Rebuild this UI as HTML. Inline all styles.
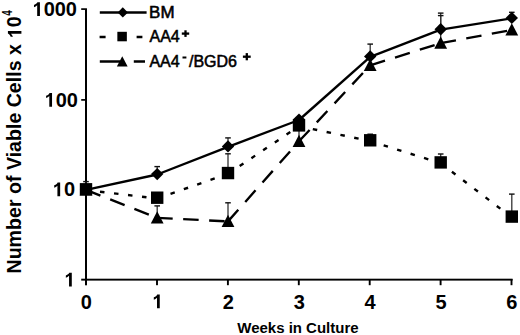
<!DOCTYPE html>
<html><head><meta charset="utf-8"><style>
html,body{margin:0;padding:0;background:#fff;width:520px;height:335px;overflow:hidden}
svg{display:block}
text{font-family:"Liberation Sans",sans-serif}
</style></head><body>
<svg width="520" height="335" viewBox="0 0 520 335">
<g fill="#000">
<rect x="85" y="8.3" width="2" height="277"/>
<rect x="85" y="278.7" width="427.6" height="1.9"/>
<rect x="81.2" y="8.25" width="4" height="1.7"/>
<rect x="81.2" y="99.05" width="4" height="1.7"/>
<rect x="81.2" y="188.65" width="4" height="1.7"/>
<rect x="81.2" y="278.7" width="4" height="1.9"/>
<rect x="156.05" y="279" width="1.9" height="6.2"/>
<rect x="226.95" y="279" width="1.9" height="6.2"/>
<rect x="297.85" y="279" width="1.9" height="6.2"/>
<rect x="368.75" y="279" width="1.9" height="6.2"/>
<rect x="439.65" y="279" width="1.9" height="6.2"/>
<rect x="510.55" y="279" width="1.9" height="6.2"/>
</g>
<g fill="none">
<path d="M86.00 189.4V181.6" stroke="#333" stroke-width="1.3"/>
<path d="M83.20 181.6H88.80" stroke="#111" stroke-width="1.4"/>
<path d="M157.20 174.1V166.6" stroke="#333" stroke-width="1.3"/>
<path d="M154.40 166.6H160.00" stroke="#111" stroke-width="1.4"/>
<path d="M157.20 217.4V205.9" stroke="#333" stroke-width="1.3"/>
<path d="M154.40 205.9H160.00" stroke="#111" stroke-width="1.4"/>
<path d="M228.00 146.4V137.9" stroke="#333" stroke-width="1.3"/>
<path d="M225.20 137.9H230.80" stroke="#111" stroke-width="1.4"/>
<path d="M228.00 173.05V153.8" stroke="#333" stroke-width="1.3"/>
<path d="M225.20 153.8H230.80" stroke="#111" stroke-width="1.4"/>
<path d="M228.00 220.9V202.8" stroke="#333" stroke-width="1.3"/>
<path d="M225.20 202.8H230.80" stroke="#111" stroke-width="1.4"/>
<path d="M299.00 140.8V128.0" stroke="#333" stroke-width="1.3"/>
<path d="M296.20 128.0H301.80" stroke="#111" stroke-width="1.4"/>
<path d="M370.20 56.4V44.1" stroke="#333" stroke-width="1.3"/>
<path d="M367.40 44.1H373.00" stroke="#111" stroke-width="1.4"/>
<path d="M370.20 140.3V134.2" stroke="#333" stroke-width="1.3"/>
<path d="M367.40 134.2H373.00" stroke="#111" stroke-width="1.4"/>
<path d="M440.70 29.3V13.1" stroke="#333" stroke-width="1.3"/>
<path d="M437.90 13.1H443.50" stroke="#111" stroke-width="1.4"/>
<path d="M440.70 42.7V15.6" stroke="#333" stroke-width="1.3"/>
<path d="M437.90 15.6H443.50" stroke="#111" stroke-width="1.4"/>
<path d="M440.70 162.4V154.0" stroke="#333" stroke-width="1.3"/>
<path d="M437.90 154.0H443.50" stroke="#111" stroke-width="1.4"/>
<path d="M511.80 17.9V12.3" stroke="#333" stroke-width="1.3"/>
<path d="M509.00 12.3H514.60" stroke="#111" stroke-width="1.4"/>
<path d="M511.80 216.6V194.1" stroke="#333" stroke-width="1.3"/>
<path d="M509.00 194.1H514.60" stroke="#111" stroke-width="1.4"/>
</g>
<g fill="none" stroke="#000" stroke-width="2.35" transform="translate(0 0.4)">
<path d="M86.00 189.40L157.20 174.10"/>
<path d="M157.20 174.10L228.00 146.40"/>
<path d="M228.00 146.40L299.00 119.60"/>
<path d="M299.00 119.60L370.20 56.40"/>
<path d="M370.20 56.40L440.70 29.30"/>
<path d="M440.70 29.30L511.80 17.90"/>
</g>
<g fill="none" stroke="#000" stroke-width="2.4" stroke-dasharray="4.5 9.6" transform="translate(0 0.8)">
<path d="M86.00 189.30L157.20 197.70"/>
<path d="M157.20 197.70L228.00 173.05"/>
<path d="M228.00 173.05L299.00 125.40"/>
<path d="M299.00 125.40L370.20 140.30"/>
<path d="M370.20 140.30L440.70 162.40"/>
<path d="M440.70 162.40L511.80 216.60"/>
</g>
<g fill="none" stroke="#000" stroke-width="2.35" stroke-dasharray="15.5 10.5" transform="translate(0 0.5)">
<path d="M86.00 189.40L157.20 217.40"/>
<path d="M157.20 217.40L228.00 220.90"/>
<path d="M228.00 220.90L299.00 140.80"/>
<path d="M299.00 140.80L370.20 64.80"/>
<path d="M370.20 64.80L440.70 42.70"/>
<path d="M440.70 42.70L511.80 29.40"/>
</g>
<g fill="#000">
<path d="M86.00 183.20L92.20 189.40L86.00 195.60L79.80 189.40Z"/>
<path d="M157.20 167.90L163.40 174.10L157.20 180.30L151.00 174.10Z"/>
<path d="M228.00 140.20L234.20 146.40L228.00 152.60L221.80 146.40Z"/>
<path d="M299.00 113.40L305.20 119.60L299.00 125.80L292.80 119.60Z"/>
<path d="M370.20 50.20L376.40 56.40L370.20 62.60L364.00 56.40Z"/>
<path d="M440.70 23.10L446.90 29.30L440.70 35.50L434.50 29.30Z"/>
<path d="M511.80 11.70L518.00 17.90L511.80 24.10L505.60 17.90Z"/>
<path d="M86.00 183.25L92.40 195.55L79.60 195.55Z"/>
<path d="M157.20 211.25L163.60 223.55L150.80 223.55Z"/>
<path d="M228.00 214.75L234.40 227.05L221.60 227.05Z"/>
<path d="M299.00 134.65L305.40 146.95L292.60 146.95Z"/>
<path d="M370.20 58.65L376.60 70.95L363.80 70.95Z"/>
<path d="M440.70 36.55L447.10 48.85L434.30 48.85Z"/>
<path d="M511.80 23.25L518.20 35.55L505.40 35.55Z"/>
<rect x="79.80" y="183.10" width="12.40" height="12.40"/>
<rect x="151.00" y="191.50" width="12.40" height="12.40"/>
<rect x="221.80" y="166.85" width="12.40" height="12.40"/>
<rect x="292.80" y="119.20" width="12.40" height="12.40"/>
<rect x="364.00" y="134.10" width="12.40" height="12.40"/>
<rect x="434.50" y="156.20" width="12.40" height="12.40"/>
<rect x="505.60" y="210.40" width="12.40" height="12.40"/>
</g>
<g stroke="#000" stroke-width="2.4" fill="none">
<path d="M99.8 12.5H146.6"/>
<path d="M99.6 37H105.6M136.6 37H142.4"/>
<path d="M99.8 61.5H120M133.8 61.5H145"/>
</g>
<g fill="#000">
<path d="M122.80 7.35L127.90 12.45L122.80 17.55L117.70 12.45Z"/>
<rect x="117.35" y="31.80" width="9.50" height="9.50"/>
<path d="M122.25 56.20L127.65 66.50L116.85 66.50Z"/>
<rect x="181.80" y="32.45" width="7.40" height="2.30"/><rect x="184.35" y="30.30" width="2.30" height="6.60"/>
<rect x="242.90" y="55.55" width="7.80" height="2.30"/><rect x="245.65" y="53.10" width="2.30" height="7.20"/>
<rect x="182.5" y="56.5" width="3.9" height="2.0"/>
</g>
<g font-family="Liberation Sans" font-size="16" fill="#000" stroke="#000" stroke-width="0.55">
<text x="149.1" y="17.9" textLength="25.4" lengthAdjust="spacingAndGlyphs">BM</text>
<text x="149.5" y="42.1">AA4</text>
<text x="149.4" y="66.5">AA4</text>
<text x="189" y="66.5">/BGD6</text>
</g>
<g font-family="Liberation Sans" font-weight="bold" font-size="20" fill="#000">
<path transform="translate(32.51 15.90) scale(0.009766 -0.009766)" d="M759 0H478V1090Q330 950 150 880V1120Q300 1170 400 1260Q470 1330 500 1409H759Z"/>
<text x="43.63" y="15.90">000</text>
<path transform="translate(44.63 106.70) scale(0.009766 -0.009766)" d="M759 0H478V1090Q330 950 150 880V1120Q300 1170 400 1260Q470 1330 500 1409H759Z"/>
<text x="55.75" y="106.70">00</text>
<path transform="translate(52.75 196.30) scale(0.009766 -0.009766)" d="M759 0H478V1090Q330 950 150 880V1120Q300 1170 400 1260Q470 1330 500 1409H759Z"/>
<text x="63.88" y="196.30">0</text>
<path transform="translate(64.38 286.40) scale(0.009766 -0.009766)" d="M759 0H478V1090Q330 950 150 880V1120Q300 1170 400 1260Q470 1330 500 1409H759Z"/>
<text x="80.84" y="308.7">0</text>
<path transform="translate(152.34 308.30) scale(0.009766 -0.009766)" d="M759 0H478V1090Q330 950 150 880V1120Q300 1170 400 1260Q470 1330 500 1409H759Z"/>
<text x="222.74" y="308.7">2</text>
<text x="293.64" y="308.7">3</text>
<text x="364.54" y="308.7">4</text>
<text x="435.44" y="308.7">5</text>
<text x="506.34" y="308.7">6</text>
</g>
<text transform="translate(237.3 332.6) scale(1 0.95)" font-family="Liberation Sans" font-weight="bold" font-size="15">Weeks in Culture</text>
<g transform="translate(21.4 273.5) rotate(-90)" font-family="Liberation Sans" font-weight="bold" font-size="19.6" fill="#000">
<text x="0" y="0">Number of Viable Cells x </text>
<path transform="translate(235.27 0.00) scale(0.009570 -0.009570)" d="M759 0H478V1090Q330 950 150 880V1120Q300 1170 400 1260Q470 1330 500 1409H759Z"/>
<text x="246.17" y="0">0</text>
<text transform="translate(257.65 -9.8) scale(0.7 1)" x="0" y="0" font-size="14">4</text>
</g>
</svg>
</body></html>
